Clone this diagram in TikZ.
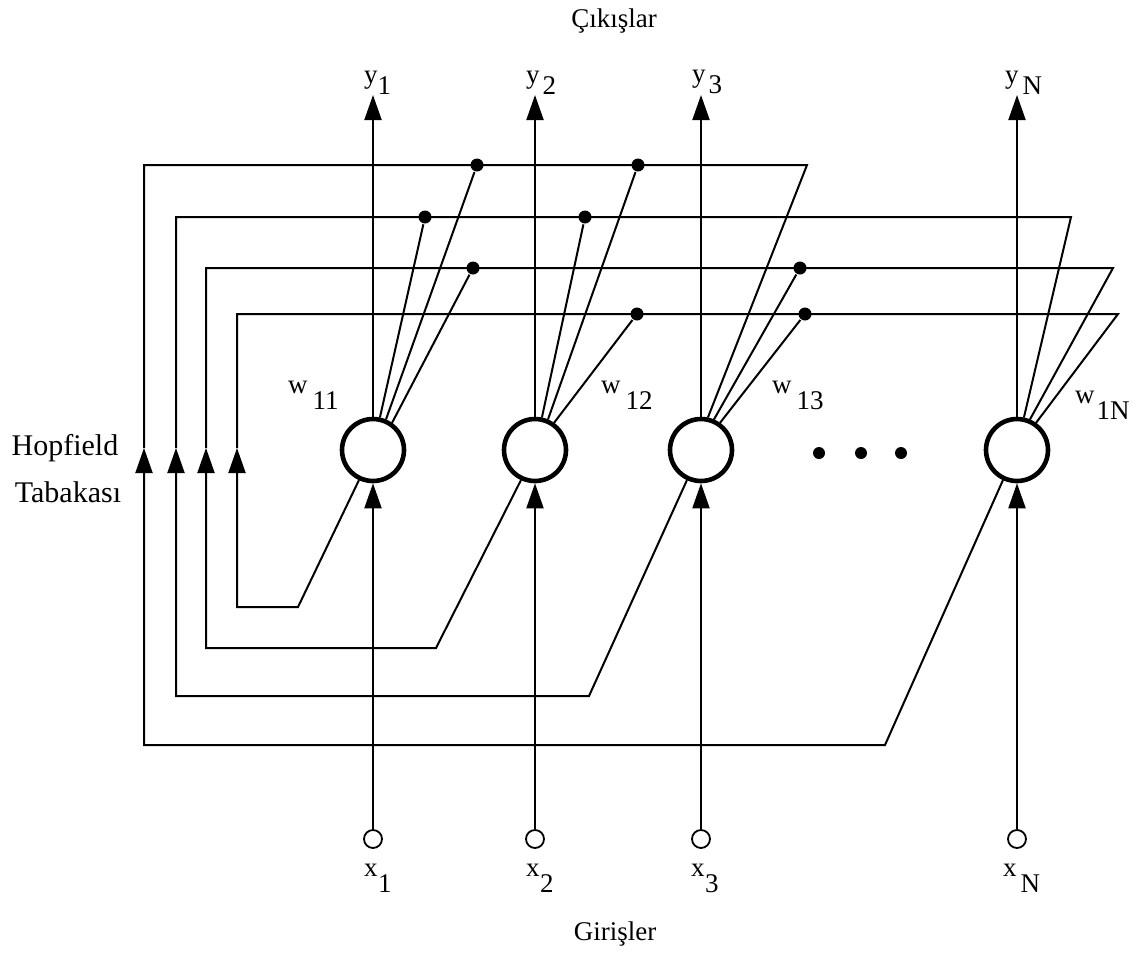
\documentclass[tikz,border=0pt]{standalone}
\usepackage{fontspec}
\setmainfont{Liberation Serif}
\usetikzlibrary{arrows.meta}
\newcommand{\lowidx}[3][0.6em]{\kern#2\raisebox{-#1}{#3}}

\begin{document}
\begin{tikzpicture}[
    x=0.5pt, y=-0.5pt,
    line width=1pt,
    wire/.style={draw=black, line width=1pt},
    headup/.style={-{Triangle[length=12.5pt, width=8.5pt]}},
    neuron/.style={circle, draw, line width=2.3pt, minimum size=31pt, inner sep=0pt},
    innode/.style={circle, draw, line width=0.9pt, minimum size=9pt, inner sep=0pt},
    jdot/.style={circle, fill, minimum size=6.5pt, inner sep=0pt},
    edot/.style={circle, fill, minimum size=6pt, inner sep=0pt},
    lbl/.style={font=\fontsize{13.5pt}{15pt}\selectfont, inner sep=0pt},
    grouplbl/.style={font=\fontsize{13.5pt}{16pt}\selectfont, inner sep=0pt},
    hoplbl/.style={font=\fontsize{15pt}{18pt}\selectfont, inner sep=0pt},
  ]
  \useasboundingbox (0,0) rectangle (1136,955);

  % ---------- Neurons ------------------------------------------------------
  \node[neuron] (n1) at (373,450) {};
  \node[neuron] (n2) at (535,450) {};
  \node[neuron] (n3) at (701,450) {};
  \node[neuron] (nN) at (1017,450) {};

  % ellipsis between neuron 3 and neuron N
  \node[edot] (el1) at (819,453) {};
  \node[edot] (el2) at (861,453) {};
  \node[edot] (el3) at (901,453) {};

  % ---------- Inputs (bottom) ---------------------------------------------
  \node[innode] (in1) at (373,839) {};
  \node[innode] (in2) at (535,839) {};
  \node[innode] (in3) at (701,839) {};
  \node[innode] (inN) at (1017,839) {};
  \node[lbl, anchor=north west] (x1) at (363,863) {x\lowidx{0.3pt}{1}};
  \node[lbl, anchor=north west] (x2) at (525,863) {x\lowidx{0.3pt}{2}};
  \node[lbl, anchor=north west] (x3) at (690,863) {x\lowidx{0.3pt}{3}};
  \node[lbl, anchor=north west] (xN) at (1002,863) {x\lowidx{2pt}{N}};
  \draw[wire, headup] (in1) -- (n1);
  \draw[wire, headup] (in2) -- (n2);
  \draw[wire, headup] (in3) -- (n3);
  \draw[wire, headup] (inN) -- (nN);

  % ---------- Outputs (top) -----------------------------------------------
  \node[lbl, anchor=south west] (y1) at (363,95) {y\lowidx[0.4em]{0pt}{1}};
  \node[lbl, anchor=south west] (y2) at (525,95) {y\lowidx[0.4em]{1.5pt}{2}};
  \node[lbl, anchor=south west] (y3) at (691,95) {y\lowidx[0.4em]{1.5pt}{3}};
  \node[lbl, anchor=south west] (yN) at (1004,95) {y\lowidx[0.4em]{2pt}{N}};
  \draw[wire, headup] (n1) -- (n1 |- y1.south);
  \draw[wire, headup] (n2) -- (n2 |- y2.south);
  \draw[wire, headup] (n3) -- (n3 |- y3.south);
  \draw[wire, headup] (nN) -- (nN |- yN.south);

  % ---------- Feedback loop 1 (from neuron N) -----------------------------
  \coordinate (b1) at (885,745);
  \coordinate (a1) at (144,448);
  \coordinate (e1) at (807,165);
  \draw[wire, headup] (nN.245) -- (b1) -| (a1);
  \draw[wire] (a1) |- (e1) -- (n3.78);
  \node[jdot] (d11) at (477,165) {};
  \node[jdot] (d12) at (638,165) {};
  \draw[wire] (d11) -- (n1.67);
  \draw[wire] (d12) -- (n2.67);

  % ---------- Feedback loop 2 (from neuron 3) -----------------------------
  \coordinate (b2) at (589,696);
  \coordinate (a2) at (176,448);
  \coordinate (e2) at (1071,217);
  \draw[wire, headup] (n3.245) -- (b2) -| (a2);
  \draw[wire] (a2) |- (e2) -- (nN.78);
  \node[jdot] (d21) at (425,217) {};
  \node[jdot] (d22) at (585,217) {};
  \draw[wire] (d21) -- (n1.78);
  \draw[wire] (d22) -- (n2.78);

  % ---------- Feedback loop 3 (from neuron 2) -----------------------------
  \coordinate (b3) at (436,648);
  \coordinate (a3) at (206,448);
  \coordinate (e3) at (1113,268);
  \draw[wire, headup] (n2.245) -- (b3) -| (a3);
  \draw[wire] (a3) |- (e3) -- (nN.67);
  \node[jdot] (d31) at (473,268) {};
  \node[jdot] (d33) at (800,268) {};
  \draw[wire] (d31) -- (n1.55);
  \draw[wire] (d33) -- (n3.67);

  % ---------- Feedback loop 4 (from neuron 1) -----------------------------
  \coordinate (b4) at (298,607);
  \coordinate (a4) at (237,448);
  \coordinate (e4) at (1118,314);
  \draw[wire, headup] (n1.245) -- (b4) -| (a4);
  \draw[wire] (a4) |- (e4) -- (nN.55);
  \node[jdot] (d42) at (637,314) {};
  \node[jdot] (d43) at (805,314) {};
  \draw[wire] (d42) -- (n2.55);
  \draw[wire] (d43) -- (n3.55);

  % ---------- Weight labels -----------------------------------------------
  \node[lbl, anchor=base west] (w11) at (287,393) {w\lowidx{2.5pt}{11}};
  \node[lbl, anchor=base west] (w12) at (600,393) {w\lowidx{2.5pt}{12}};
  \node[lbl, anchor=base west] (w13) at (771,393) {w\lowidx{2.5pt}{13}};
  \node[lbl, anchor=base west] (w1N) at (1074,403) {w\lowidx{1pt}{1N}};

  % ---------- Group captions ----------------------------------------------
  \node[grouplbl, anchor=base] (outs) at (614,27) {Çıkışlar};
  \node[grouplbl, anchor=base] (ins) at (615,940) {Girişler};
  \node[hoplbl, anchor=base] (hop1) at (65,455) {Hopfield};
  \node[hoplbl, anchor=base] (hop2) at (68,502) {Tabakası};

\end{tikzpicture}
\end{document}
